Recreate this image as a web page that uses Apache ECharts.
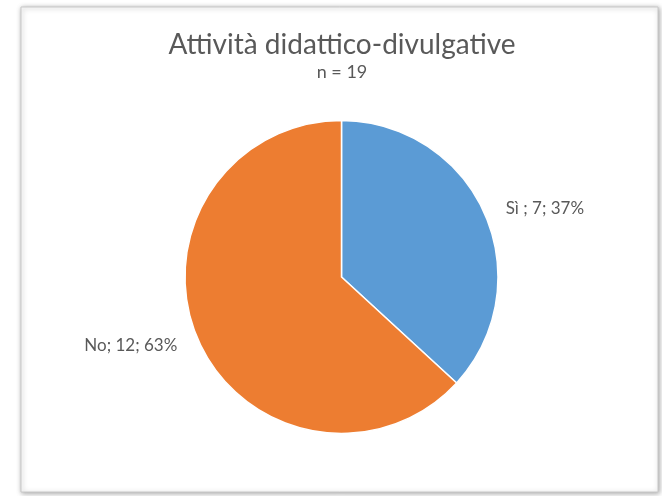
<!DOCTYPE html>
<html><head><meta charset="utf-8">
<script src="https://cdn.jsdelivr.net/npm/echarts@6/dist/echarts.min.js"></script>
<style>html,body{margin:0;padding:0;background:#fff}#c{width:662px;height:496px}</style>
</head><body><div id="c"></div>
<script>
var categories = ['Sì ', 'No'];
var values = [7, 12];
var colors = ['#5B9BD5', '#ED7D31'];
var titleText = 'Attività didattico-divulgative';
var subtitleText = 'n = 19';

var chart = echarts.init(document.getElementById('c'), null, {renderer: 'canvas'});
chart.setOption({
  backgroundColor: '#fff',
  animation: false,
  graphic: [{
    type: 'rect', z: -10,
    shape: {x: 21, y: 7, width: 637, height: 485},
    style: {fill: '#fff', stroke: '#c8c8c8', lineWidth: 1, shadowBlur: 5, shadowColor: 'rgba(0,0,0,0.35)', shadowOffsetX: 1, shadowOffsetY: 1}
  }],
  title: {
    text: titleText, subtext: subtitleText, left: 337, textAlign: 'center', top: 26, itemGap: 4,
    textStyle: {fontFamily: 'Lato', fontSize: 28, fontWeight: 'normal', color: '#595959'},
    subtextStyle: {fontFamily: 'Lato', fontSize: 18, color: '#595959'}
  },
  series: [{
    type: 'pie',
    center: [341.5, 277],
    radius: [0, 156.5],
    startAngle: 90,
    clockwise: true,
    avoidLabelOverlap: false,
    data: categories.map(function (c, i) {
      return {name: c, value: values[i], itemStyle: {color: colors[i]}};
    }),
    itemStyle: {borderColor: '#fff', borderWidth: 1.5},
    label: {
      show: true, position: 'outside',
      formatter: function (p) { return p.name + '; ' + p.value + '; ' + Math.round(p.percent) + '%'; },
      fontFamily: 'Lato', fontSize: 17, color: '#595959'
    },
    labelLine: {show: false, length: 14, length2: 3},
    emphasis: {disabled: true}
  }]
});
</script></body></html>
